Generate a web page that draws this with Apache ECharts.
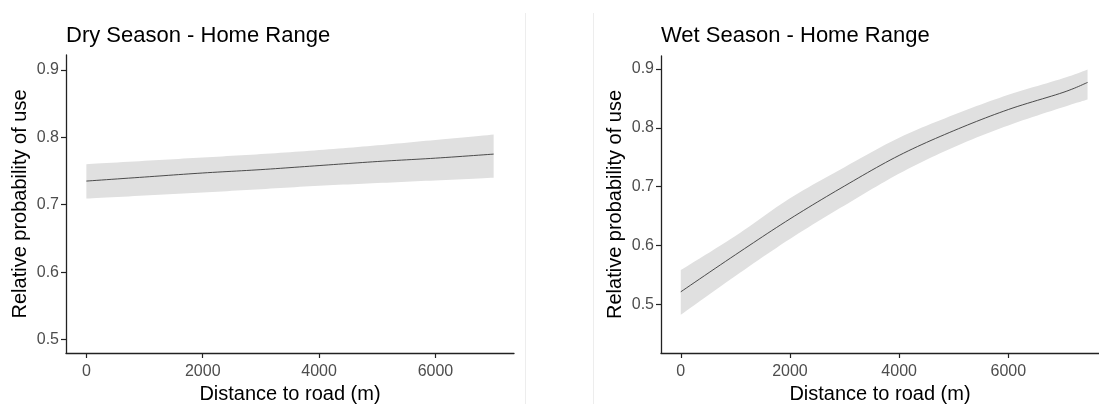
<!DOCTYPE html>
<html>
<head>
<meta charset="utf-8">
<script src="https://cdn.jsdelivr.net/npm/echarts@6/dist/echarts.min.js"></script>
<style>
html,body{margin:0;padding:0;background:#fff;}
#chart{width:1099px;height:404px;}
</style>
</head>
<body>
<div id="chart"></div>
<script>
// ---- Data ----
const titles = ['Dry Season - Home Range', 'Wet Season - Home Range'];
const xAxisTitle = 'Distance to road (m)';
const yAxisTitle = 'Relative probability of use';
const xTicks = [0, 2000, 4000, 6000];
const yTicks = [0.5, 0.6, 0.7, 0.8, 0.9];

const dryX     = [0, 1000, 2000, 3000, 4000, 5000, 6000, 7000];
const dryFit   = [0.735, 0.741, 0.747, 0.752, 0.758, 0.764, 0.769, 0.775];
const dryUpper = [0.760, 0.765, 0.770, 0.775, 0.781, 0.788, 0.796, 0.804];
const dryLower = [0.709, 0.7135, 0.718, 0.723, 0.728, 0.732, 0.736, 0.740];

const wetX     = [0, 1000, 2000, 3000, 4000, 5000, 6000, 7000, 7450];
const wetFit   = [0.521, 0.584, 0.645, 0.701, 0.753, 0.795, 0.831, 0.860, 0.877];
const wetUpper = [0.558, 0.616, 0.680, 0.733, 0.783, 0.822, 0.856, 0.884, 0.899];
const wetLower = [0.482, 0.548, 0.611, 0.668, 0.722, 0.767, 0.804, 0.835, 0.848];

const dryXRange = [-350, 7350];
const dryYRange = [0.480, 0.922];
const wetXRange = [-362, 7660];
const wetYRange = [0.417, 0.922];

// ---- Build chart ----
const chart = echarts.init(document.getElementById('chart'), null, {renderer: 'canvas'});
const FONT = 'Liberation Sans, Arial, sans-serif';
const AXIS_COLOR = '#222';
const LABEL_COLOR = '#4d4d4d';

// Catmull-Rom densification in pixel space (drawing only)
function smoothPts(pts) {
  if (pts.length < 3) return pts;
  const out = [];
  const n = pts.length;
  for (let i = 0; i < n - 1; i++) {
    const p0 = pts[Math.max(i - 1, 0)], p1 = pts[i], p2 = pts[i + 1], p3 = pts[Math.min(i + 2, n - 1)];
    const steps = 12;
    for (let s = 0; s < steps; s++) {
      const t = s / steps, t2 = t * t, t3 = t2 * t;
      const f = (a, b, c, d) => 0.5 * ((2 * b) + (-a + c) * t + (2 * a - 5 * b + 4 * c - d) * t2 + (-a + 3 * b - 3 * c + d) * t3);
      out.push([f(p0[0], p1[0], p2[0], p3[0]), f(p0[1], p1[1], p2[1], p3[1])]);
    }
  }
  out.push(pts[n - 1]);
  return out;
}

function xAxisFor(idx, range) {
  return {
    type: 'value', gridIndex: idx, min: range[0], max: range[1], z: 10,
    splitLine: {show: false},
    axisLine: {show: true, onZero: false, lineStyle: {color: AXIS_COLOR, width: 1.3}},
    axisTick: {show: true, length: 5, customValues: xTicks, lineStyle: {color: AXIS_COLOR, width: 1.2}},
    axisLabel: {customValues: xTicks, color: LABEL_COLOR, fontSize: 16, fontFamily: FONT, margin: 11,
      formatter: v => String(v)},
    name: xAxisTitle, nameLocation: 'middle', nameGap: 31,
    nameTextStyle: {color: '#000', fontSize: 20, fontFamily: FONT}
  };
}
function yAxisFor(idx, range) {
  return {
    type: 'value', gridIndex: idx, min: range[0], max: range[1], z: 10,
    splitLine: {show: false},
    axisLine: {show: true, onZero: false, lineStyle: {color: AXIS_COLOR, width: 1.3}},
    axisTick: {show: true, length: 5, customValues: yTicks, lineStyle: {color: AXIS_COLOR, width: 1.2}},
    axisLabel: {customValues: yTicks, color: LABEL_COLOR, fontSize: 16, fontFamily: FONT, margin: 7,
      formatter: v => v.toFixed(1)},
    name: yAxisTitle, nameLocation: 'middle', nameGap: 36,
    nameTextStyle: {color: '#000', fontSize: 20, fontFamily: FONT}
  };
}
function bandSeries(idx, xs, lo, hi, fit) {
  return [
    {
      type: 'custom', xAxisIndex: idx, yAxisIndex: idx, silent: true, z: 1,
      data: [0],
      renderItem: function (params, api) {
        const up = smoothPts(xs.map((x, i) => api.coord([x, hi[i]])));
        const dn = smoothPts(xs.map((x, i) => api.coord([x, lo[i]])));
        const poly = up.concat(dn.reverse());
        return {type: 'polygon', shape: {points: poly}, style: {fill: '#e0e0e0', stroke: null}};
      }
    },
    {
      type: 'custom', xAxisIndex: idx, yAxisIndex: idx, silent: true, z: 3,
      data: [0],
      renderItem: function (params, api) {
        const pts = smoothPts(xs.map((x, i) => api.coord([x, fit[i]])));
        return {type: 'polyline', shape: {points: pts}, style: {stroke: '#3a3a3a', lineWidth: 0.9, fill: null}};
      }
    }
  ];
}

const option = {
  animation: false,
  backgroundColor: '#fff',
  title: [
    {text: titles[0], left: 61, top: 20, textStyle: {fontSize: 22, fontWeight: 'normal', color: '#000', fontFamily: FONT}},
    {text: titles[1], left: 656, top: 20, textStyle: {fontSize: 22, fontWeight: 'normal', color: '#000', fontFamily: FONT}}
  ],
  grid: [
    {left: 66, top: 55, width: 448, height: 298, outerBoundsMode: 'none', containLabel: false},
    {left: 661, top: 56, width: 438, height: 297, outerBoundsMode: 'none', containLabel: false}
  ],
  xAxis: [xAxisFor(0, dryXRange), xAxisFor(1, wetXRange)],
  yAxis: [yAxisFor(0, dryYRange), yAxisFor(1, wetYRange)],
  series: [].concat(
    bandSeries(0, dryX, dryLower, dryUpper, dryFit),
    bandSeries(1, wetX, wetLower, wetUpper, wetFit)
  ),
  graphic: [
    {type: 'line', shape: {x1: 525.5, y1: 13, x2: 525.5, y2: 404}, style: {stroke: '#ededed', lineWidth: 1}, silent: true},
    {type: 'line', shape: {x1: 593.5, y1: 13, x2: 593.5, y2: 404}, style: {stroke: '#ededed', lineWidth: 1}, silent: true}
  ]
};
chart.setOption(option);
</script>
</body>
</html>
